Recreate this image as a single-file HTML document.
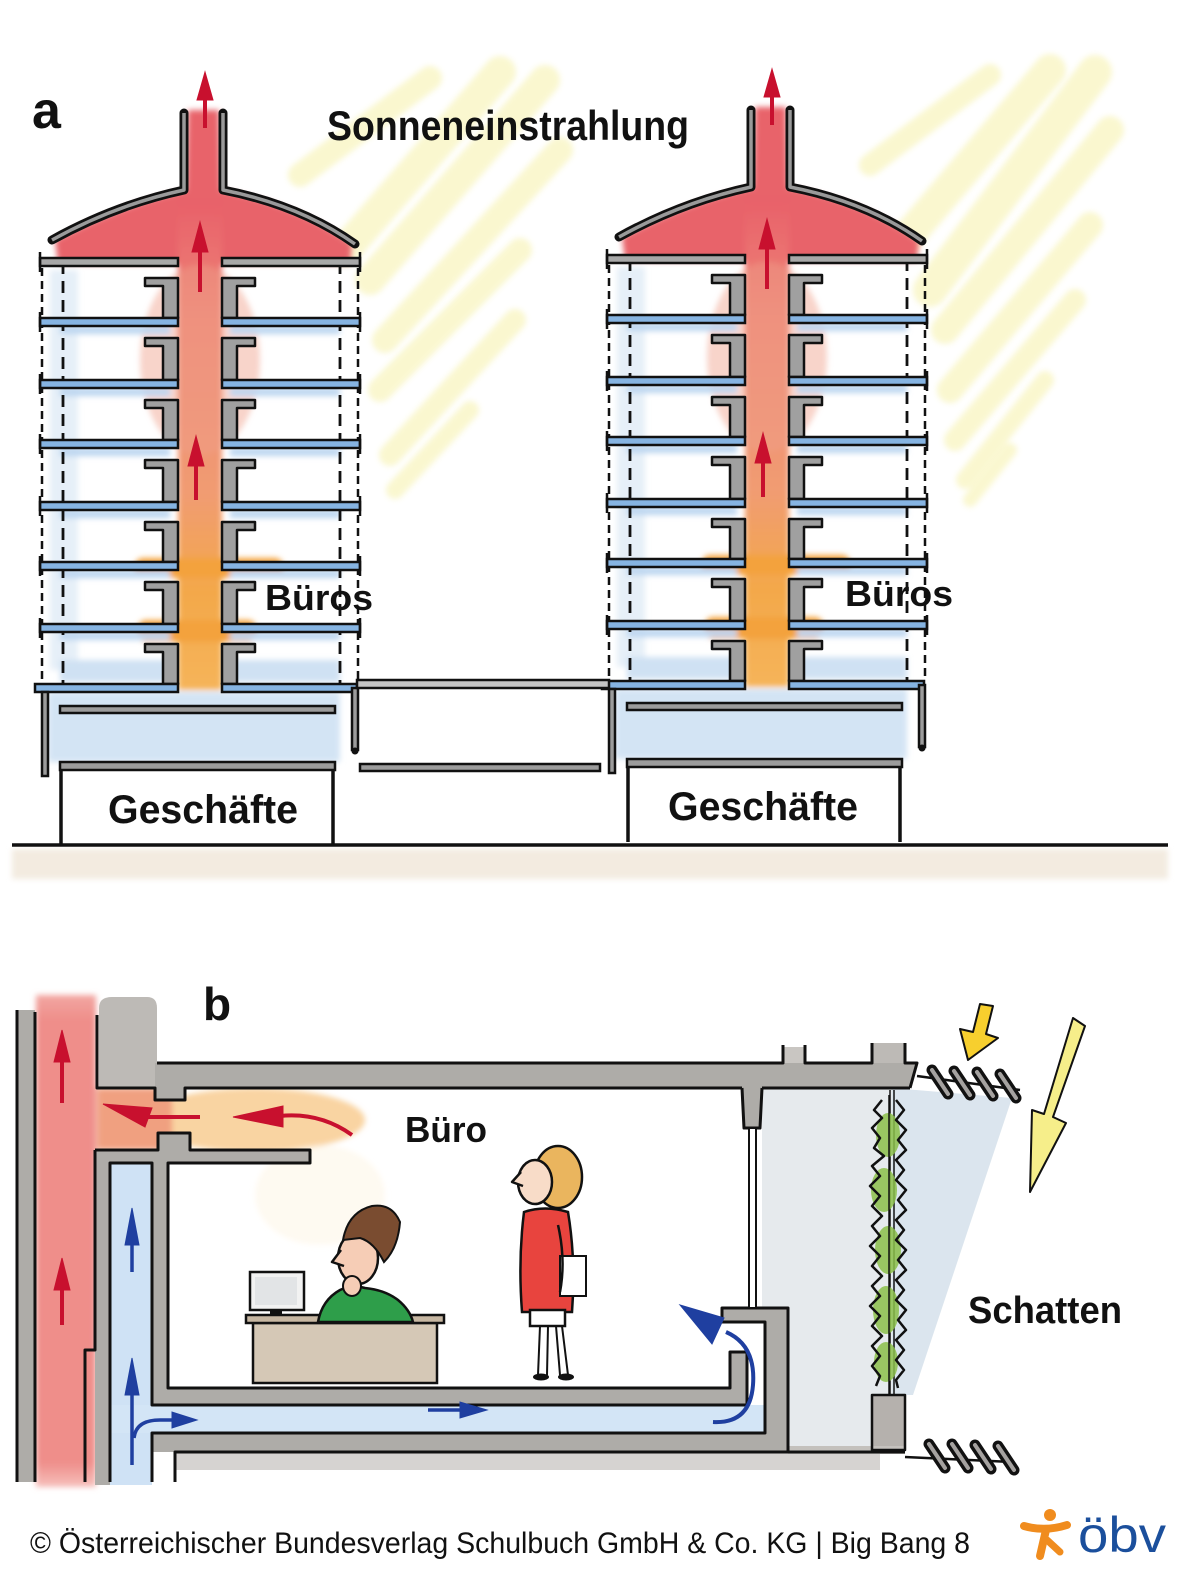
<!DOCTYPE html>
<html><head><meta charset="utf-8">
<style>
html,body{margin:0;padding:0;background:#fff;}
svg{display:block;}
.h{font-family:"Liberation Sans","DejaVu Sans",sans-serif;font-weight:bold;fill:#111;}
.f{font-family:"Liberation Sans Narrow","Liberation Sans",sans-serif;fill:#111;}
</style></head><body>
<svg width="1200" height="1578" viewBox="0 0 1200 1578" xmlns="http://www.w3.org/2000/svg">
<defs>
<filter id="bl" x="-20%" y="-20%" width="140%" height="140%"><feGaussianBlur stdDeviation="3"/></filter>
<filter id="bl6" x="-20%" y="-20%" width="140%" height="140%"><feGaussianBlur stdDeviation="5"/></filter>
<linearGradient id="coreG" x1="0" y1="0" x2="0" y2="1">
<stop offset="0" stop-color="#e8606a"/><stop offset="0.25" stop-color="#ee8676"/><stop offset="0.6" stop-color="#f19c72"/><stop offset="0.8" stop-color="#f3a84a"/><stop offset="1" stop-color="#f5b45a"/>
</linearGradient>
<linearGradient id="redG" x1="0" y1="0" x2="0" y2="1">
<stop offset="0" stop-color="#f2a7a2"/><stop offset="0.05" stop-color="#ef8e8a"/><stop offset="0.95" stop-color="#ef8e8a"/><stop offset="1" stop-color="#f6c0bc"/>
</linearGradient>
<g id="bld">
 <g filter="url(#bl)">
  <path d="M55,240 Q120,205 186,190 L188,110 L219,110 L221,190 Q300,205 352,244 L350,264 L58,264 Z" fill="#e8646a"/>
  <rect x="178" y="200" width="44" height="490" fill="url(#coreG)"/>
  <ellipse cx="200" cy="360" rx="60" ry="95" fill="#f0a08a" opacity=".45"/>
  <rect x="135" y="558" width="148" height="20" rx="8" fill="#f3a23e"/>
  <rect x="138" y="620" width="118" height="22" rx="8" fill="#f3a23e"/>
  <rect x="48" y="692" width="292" height="70" fill="#d3e4f4"/>
  <rect x="50" y="270" width="28" height="400" fill="#dbe8f5" opacity=".7"/>
  <rect x="60" y="326" width="110" height="8" fill="#bcd6f0"/><rect x="230" y="326" width="110" height="8" fill="#bcd6f0"/>
  <rect x="60" y="388" width="110" height="8" fill="#bcd6f0"/><rect x="230" y="388" width="110" height="8" fill="#bcd6f0"/>
  <rect x="60" y="448" width="110" height="8" fill="#bcd6f0"/><rect x="230" y="448" width="110" height="8" fill="#bcd6f0"/>
  <rect x="60" y="510" width="110" height="8" fill="#bcd6f0"/><rect x="230" y="510" width="110" height="8" fill="#bcd6f0"/>
  <rect x="60" y="570" width="110" height="8" fill="#bcd6f0"/><rect x="230" y="570" width="110" height="8" fill="#bcd6f0"/>
  <rect x="60" y="632" width="110" height="8" fill="#bcd6f0"/><rect x="230" y="632" width="110" height="8" fill="#bcd6f0"/>
  <rect x="60" y="660" width="110" height="22" fill="#cfe1f3"/><rect x="230" y="660" width="110" height="22" fill="#cfe1f3"/>
 </g>
 <g fill="#a0a0a0" stroke="#111" stroke-width="2.5" stroke-linejoin="round">
  <path d="M145,278H178V318H163V286H145Z"/><path d="M255,278H222V318H237V286H255Z"/>
  <path d="M145,338H178V380H163V346H145Z"/><path d="M255,338H222V380H237V346H255Z"/>
  <path d="M145,400H178V440H163V408H145Z"/><path d="M255,400H222V440H237V408H255Z"/>
  <path d="M145,460H178V502H163V468H145Z"/><path d="M255,460H222V502H237V468H255Z"/>
  <path d="M145,522H178V562H163V530H145Z"/><path d="M255,522H222V562H237V530H255Z"/>
  <path d="M145,582H178V624H163V590H145Z"/><path d="M255,582H222V624H237V590H255Z"/>
  <path d="M145,644H178V684H163V652H145Z"/><path d="M255,644H222V684H237V652H255Z"/>
 </g>
 <g stroke="#111" fill="none">
  <line x1="63" y1="262" x2="63" y2="684" stroke-width="2.8" stroke-dasharray="12 7"/>
  <line x1="340" y1="262" x2="340" y2="684" stroke-width="2.8" stroke-dasharray="12 7"/>
  <line x1="42" y1="268" x2="42" y2="680" stroke-width="2.5" stroke-dasharray="8 5"/>
  <line x1="358" y1="268" x2="358" y2="680" stroke-width="2.5" stroke-dasharray="8 5"/>
 </g>
 <g fill="#86b4e2" stroke="#111" stroke-width="2.5">
  <rect x="40" y="258" width="138" height="8" fill="#a8a8a8"/><rect x="222" y="258" width="138" height="8" fill="#a8a8a8"/>
  <rect x="40" y="318" width="138" height="8"/><rect x="222" y="318" width="138" height="8"/>
  <rect x="40" y="380" width="138" height="8"/><rect x="222" y="380" width="138" height="8"/>
  <rect x="40" y="440" width="138" height="8"/><rect x="222" y="440" width="138" height="8"/>
  <rect x="40" y="502" width="138" height="8"/><rect x="222" y="502" width="138" height="8"/>
  <rect x="40" y="562" width="138" height="8"/><rect x="222" y="562" width="138" height="8"/>
  <rect x="40" y="624" width="138" height="8"/><rect x="222" y="624" width="138" height="8"/>
  <rect x="35" y="684" width="143" height="8"/><rect x="222" y="684" width="135" height="8"/>
 </g>
 <path d="M40,252V272M360,252V272M40,312V332M360,312V332M40,374V394M360,374V394M40,434V454M360,434V454M40,496V516M360,496V516M40,556V576M360,556V576M40,618V638M360,618V638" stroke="#111" stroke-width="2.5"/>
 <path d="M52,240 Q115,205 184,190 L184,113" fill="none" stroke="#111" stroke-width="9" stroke-linejoin="round" stroke-linecap="round"/>
 <path d="M355,244 Q300,205 223,190 L223,113" fill="none" stroke="#111" stroke-width="9" stroke-linejoin="round" stroke-linecap="round"/>
 <path d="M52,240 Q115,205 184,190 L184,113" fill="none" stroke="#9a9a9a" stroke-width="3.5" stroke-linejoin="round"/>
 <path d="M355,244 Q300,205 223,190 L223,113" fill="none" stroke="#9a9a9a" stroke-width="3.5" stroke-linejoin="round"/>
 <g fill="#c8102e" stroke="#c8102e">
  <polygon points="205,72 197,100 213,100" stroke-width="1"/><line x1="205" y1="98" x2="205" y2="128" stroke-width="4"/>
  <polygon points="200,222 192,252 208,252" stroke-width="1"/><line x1="200" y1="250" x2="200" y2="292" stroke-width="4"/>
  <polygon points="196,436 188,466 204,466" stroke-width="1"/><line x1="196" y1="464" x2="196" y2="500" stroke-width="4"/>
 </g>
 <g stroke="#111" stroke-width="2.5" fill="#9c9c9c">
  <rect x="42" y="692" width="6" height="84"/>
  <rect x="60" y="706" width="275" height="7"/>
  <rect x="60" y="762" width="275" height="8"/>
  <rect x="352" y="688" width="6" height="62"/>
 </g>
 <circle cx="355" cy="751" r="3.5" fill="#111"/>
 <path d="M61,770V845M333,770V845" stroke="#111" stroke-width="3.5"/>
</g>
</defs>

<g stroke="#f4ee96" stroke-linecap="round" opacity=".45" filter="url(#bl)">
 <line x1="430" y1="78" x2="300" y2="175" stroke-width="24"/>
 <line x1="500" y1="72" x2="345" y2="250" stroke-width="32"/>
 <line x1="545" y1="80" x2="370" y2="280" stroke-width="30"/>
 <line x1="560" y1="150" x2="385" y2="340" stroke-width="26"/>
 <line x1="520" y1="250" x2="380" y2="390" stroke-width="24"/>
 <line x1="515" y1="320" x2="390" y2="455" stroke-width="22"/>
 <line x1="470" y1="410" x2="395" y2="490" stroke-width="18"/>
 <line x1="990" y1="75" x2="870" y2="165" stroke-width="22"/>
 <line x1="1050" y1="70" x2="905" y2="240" stroke-width="32"/>
 <line x1="1095" y1="72" x2="930" y2="290" stroke-width="34"/>
 <line x1="1110" y1="130" x2="945" y2="330" stroke-width="28"/>
 <line x1="1090" y1="225" x2="950" y2="390" stroke-width="26"/>
 <line x1="1075" y1="300" x2="955" y2="440" stroke-width="22"/>
 <line x1="1045" y1="380" x2="965" y2="480" stroke-width="18"/>
 <line x1="1010" y1="450" x2="970" y2="500" stroke-width="14"/>
</g>

<rect x="12" y="849" width="1156" height="30" fill="#f3ebe0" filter="url(#bl)"/>

<use href="#bld"/>
<use href="#bld" transform="translate(567,-3)"/>

<rect x="357" y="680" width="252" height="8" fill="#c4c4c4" stroke="#111" stroke-width="2.5"/>
<rect x="360" y="764" width="240" height="7" fill="#9c9c9c" stroke="#111" stroke-width="2.5"/>
<line x1="12" y1="845" x2="1168" y2="845" stroke="#111" stroke-width="3.5"/>

<text class="h" x="32" y="128" font-size="52">a</text>
<text class="h" x="327" y="140" font-size="42" textLength="362" lengthAdjust="spacingAndGlyphs">Sonneneinstrahlung</text>
<text class="h" x="265" y="610" font-size="36" textLength="108" lengthAdjust="spacingAndGlyphs">Büros</text>
<text class="h" x="845" y="606" font-size="36" textLength="108" lengthAdjust="spacingAndGlyphs">Büros</text>
<text class="h" x="108" y="823" font-size="40" textLength="190" lengthAdjust="spacingAndGlyphs">Geschäfte</text>
<text class="h" x="668" y="820" font-size="40" textLength="190" lengthAdjust="spacingAndGlyphs">Geschäfte</text>

<g filter="url(#bl)">
 <rect x="36" y="995" width="60" height="492" fill="url(#redG)"/>
 <ellipse cx="255" cy="1120" rx="110" ry="32" fill="#f7c27a" opacity=".7"/>
 <ellipse cx="320" cy="1195" rx="65" ry="50" fill="#fdf3dc" opacity=".4"/>
 <rect x="97" y="1088" width="75" height="62" fill="#f0a080"/>
</g>
<path d="M762,1088 H892 V1450 H788 V1308 H762 Z" fill="#e6eaed"/>
<polygon points="892,1088 1012,1098 913,1395 892,1395" fill="#dbe5ee"/>
<g fill="#aeaca8">
 <rect x="17" y="1010" width="18" height="472"/>
 <path d="M99,1008 Q99,997 112,997 H147 Q157,997 157,1008 V1088 H99 Z" fill="#bdbab6"/>
 <path d="M155,1063 H917 L910,1088 H155 Z"/>
 <rect x="783" y="1047" width="22" height="16" fill="#c9c6c2"/>
 <rect x="872" y="1043" width="33" height="20" fill="#bdbab6"/>
 <rect x="155" y="1088" width="30" height="12"/>
 <path d="M95,1150 H158 V1133 H190 V1150 H310 V1163 H95 Z"/>
 <rect x="95" y="1163" width="15" height="322"/>
 <rect x="110" y="1163" width="42" height="322" fill="#cfe2f5"/>
 <rect x="152" y="1163" width="16" height="225"/>
 <rect x="152" y="1388" width="595" height="17"/>
 <rect x="110" y="1405" width="655" height="28" fill="#d3e5f6"/>
 <rect x="152" y="1433" width="636" height="19"/>
 <rect x="175" y="1452" width="705" height="18" fill="#c4c1bd" opacity=".7"/>
 <path d="M722,1308 H788 V1452 H765 V1322 H722 Z"/>
 <rect x="730" y="1352" width="17" height="36"/>
 <path d="M742,1088 H762 L760,1128 H744 Z"/>
 <rect x="872" y="1395" width="33" height="55" fill="#b5b1ad"/>
 <rect x="788" y="1446" width="117" height="8" fill="#c4c1bd"/>
</g>
<g fill="none" stroke="#111" stroke-width="3" stroke-linejoin="round">
 <path d="M17,1010 V1482"/>
 <path d="M35,1012 V1482"/>
 <path d="M97,1015 V1088 H155 V1100 H185 V1088 H742"/>
 <path d="M762,1088 H910"/>
 <path d="M157,1063 H783 V1045 M805,1045 V1063 H872 V1043 M905,1043 V1063 H917 L910,1088"/>
 <path d="M95,1150 H158 V1133 H190 V1150 H310 V1163 H168 V1388 H730 V1352 H747 V1405 H152 V1163 H110 V1482"/>
 <path d="M95,1150 V1350 H85 V1482"/>
 <path d="M152,1482 V1433 H765 V1322 H722 V1308 H788 V1452 H905"/>
 <path d="M175,1482 V1452 H788"/>
 <path d="M742,1088 L744,1128 H760 L762,1088"/>
 <rect x="749" y="1128" width="7" height="180" fill="#fff" stroke-width="2"/>
 <path d="M890,1090 V1395 M894,1090 V1395" stroke-width="1.5"/>
 <rect x="872" y="1395" width="33" height="55" stroke-width="2.5"/>
 <path d="M917,1076 L1020,1090 M905,1457 L1012,1462" stroke-width="2.5"/>
</g>
<g stroke-linecap="round">
 <g stroke="#111" stroke-width="11">
  <line x1="932" y1="1070" x2="948" y2="1094"/><line x1="954" y1="1071" x2="970" y2="1095"/>
  <line x1="977" y1="1072" x2="993" y2="1096"/><line x1="1000" y1="1074" x2="1016" y2="1098"/>
  <line x1="929" y1="1444" x2="945" y2="1468"/><line x1="952" y1="1444" x2="968" y2="1468"/>
  <line x1="975" y1="1445" x2="991" y2="1469"/><line x1="998" y1="1446" x2="1014" y2="1470"/>
 </g>
 <g stroke="#a5a2a0" stroke-width="4">
  <line x1="932" y1="1070" x2="948" y2="1094"/><line x1="954" y1="1071" x2="970" y2="1095"/>
  <line x1="977" y1="1072" x2="993" y2="1096"/><line x1="1000" y1="1074" x2="1016" y2="1098"/>
  <line x1="929" y1="1444" x2="945" y2="1468"/><line x1="952" y1="1444" x2="968" y2="1468"/>
  <line x1="975" y1="1445" x2="991" y2="1469"/><line x1="998" y1="1446" x2="1014" y2="1470"/>
 </g>
</g>
<g>
 <g fill="#8cc04a" opacity=".85">
  <ellipse cx="888" cy="1135" rx="12" ry="22"/><ellipse cx="884" cy="1190" rx="13" ry="22"/>
  <ellipse cx="888" cy="1250" rx="13" ry="24"/><ellipse cx="886" cy="1310" rx="13" ry="24"/>
  <ellipse cx="886" cy="1362" rx="12" ry="20"/>
 </g>
 <path d="M882,1100 L874,1110 L882,1118 L872,1128 L880,1138 L874,1148 L884,1156 L872,1166 L880,1176 L870,1186 L880,1196 L872,1206 L882,1216 L872,1226 L880,1236 L870,1246 L880,1256 L872,1266 L882,1276 L872,1286 L880,1296 L870,1306 L880,1316 L872,1326 L882,1336 L872,1346 L880,1356 L872,1366 L880,1376 L876,1386" fill="none" stroke="#111" stroke-width="2.5" stroke-linejoin="round"/>
 <path d="M896,1100 L904,1110 L896,1120 L906,1130 L898,1140 L906,1150 L896,1160 L904,1170 L896,1180 L906,1190 L898,1200 L906,1210 L896,1220 L904,1230 L896,1240 L906,1250 L898,1260 L906,1270 L896,1280 L904,1290 L896,1300 L906,1310 L898,1320 L906,1330 L896,1340 L904,1350 L896,1360 L904,1370 L896,1380 L898,1388" fill="none" stroke="#111" stroke-width="2.5" stroke-linejoin="round"/>
 <line x1="889" y1="1095" x2="889" y2="1395" stroke="#111" stroke-width="1.5"/>
</g>
<polygon points="980,1004 993,1006 986,1034 998,1038 968,1060 960,1029 973,1032" fill="#f7cf2e" stroke="#111" stroke-width="2" stroke-linejoin="round"/>
<polygon points="1073,1018 1085,1026 1053,1117 1066,1123 1030,1192 1032,1110 1044,1114" fill="#f6ee8a" stroke="#111" stroke-width="2" stroke-linejoin="round"/>
<g fill="#c8102e" stroke="#c8102e">
 <polygon points="62,1030 54,1062 70,1062" stroke-width="1"/><line x1="62" y1="1060" x2="62" y2="1103" stroke-width="4"/>
 <polygon points="62,1258 54,1290 70,1290" stroke-width="1"/><line x1="62" y1="1288" x2="62" y2="1325" stroke-width="4"/>
 <polygon points="103,1104 152,1108 145,1127" stroke-width="1"/><line x1="145" y1="1117" x2="200" y2="1117" stroke-width="4"/>
 <path d="M352,1135 Q320,1112 280,1116" fill="none" stroke-width="4"/>
 <polygon points="233,1117 283,1106 283,1127" stroke-width="1"/>
</g>
<g fill="#1f3fa0" stroke="#1f3fa0">
 <polygon points="132,1208 125,1245 139,1245" stroke-width="1"/><line x1="132" y1="1243" x2="132" y2="1272" stroke-width="3.5"/>
 <polygon points="132,1358 125,1395 139,1395" stroke-width="1"/><line x1="132" y1="1393" x2="132" y2="1465" stroke-width="3.5"/>
 <path d="M134,1438 Q136,1420 160,1420 H176" fill="none" stroke-width="3.5"/>
 <polygon points="197,1420 172,1412 172,1428" stroke-width="1"/>
 <line x1="428" y1="1410" x2="462" y2="1410" stroke-width="3.5"/>
 <polygon points="487,1410 460,1402 460,1418" stroke-width="1"/>
 <path d="M713,1422 Q750,1424 753,1385 Q756,1345 726,1332" fill="none" stroke-width="4"/>
 <polygon points="680,1305 724,1318 712,1344" stroke-width="1"/>
</g>
<rect x="253" y="1323" width="184" height="60" fill="#d5c8b6" stroke="#111" stroke-width="2.5"/>
<rect x="246" y="1315" width="198" height="8" fill="#c7b7a2" stroke="#111" stroke-width="2.5"/>
<rect x="250" y="1272" width="54" height="38" fill="#f2f2f2" stroke="#111" stroke-width="2.5"/>
<rect x="255" y="1277" width="42" height="28" fill="#e2e4e6"/>
<rect x="270" y="1309" width="12" height="7" fill="#111"/>
<path d="M318,1322 Q322,1300 340,1290 Q352,1284 365,1288 Q385,1290 398,1300 Q410,1310 413,1322 Z" fill="#2e9e4a" stroke="#111" stroke-width="2.5"/>
<ellipse cx="358" cy="1258" rx="20" ry="26" fill="#f6cdb6" stroke="#111" stroke-width="2.5"/>
<path d="M341,1250 L332,1262 L344,1266" fill="#f6cdb6" stroke="#111" stroke-width="2.5" stroke-linejoin="round"/>
<path d="M343,1240 Q348,1212 372,1206 Q392,1203 400,1222 Q398,1248 384,1262 Q374,1242 360,1238 Z" fill="#7a4c30" stroke="#111" stroke-width="2"/>
<ellipse cx="352" cy="1286" rx="9" ry="10" fill="#f6cdb6" stroke="#111" stroke-width="2"/>
<ellipse cx="558" cy="1177" rx="24" ry="31" fill="#eab55e" stroke="#111" stroke-width="2.5"/>
<ellipse cx="535" cy="1182" rx="17" ry="22" fill="#f8dcc8" stroke="#111" stroke-width="2.5"/>
<path d="M521,1172 L512,1182 L523,1186" fill="#f8dcc8" stroke="#111" stroke-width="2.5" stroke-linejoin="round"/>
<path d="M524,1212 Q545,1205 568,1212 Q576,1260 572,1312 H522 Q518,1260 524,1212 Z" fill="#e8443e" stroke="#111" stroke-width="2.5"/>
<rect x="530" y="1310" width="35" height="16" fill="#fff" stroke="#111" stroke-width="2.5"/>
<path d="M540,1326 L538,1375 M548,1326 L547,1375 M556,1326 L560,1375 M562,1326 L568,1375" stroke="#111" stroke-width="2"/>
<ellipse cx="541" cy="1377" rx="8" ry="3.5" fill="#111"/><ellipse cx="566" cy="1377" rx="8" ry="3.5" fill="#111"/>
<rect x="560" y="1256" width="26" height="40" fill="#fff" stroke="#111" stroke-width="2"/>
<path d="M558,1225 Q566,1260 560,1292" fill="none" stroke="#111" stroke-width="2.5"/>

<text class="h" x="203" y="1020" font-size="46">b</text>
<text class="h" x="405" y="1142" font-size="36" textLength="82" lengthAdjust="spacingAndGlyphs">Büro</text>
<text class="h" x="968" y="1323" font-size="38" textLength="154" lengthAdjust="spacingAndGlyphs">Schatten</text>

<text class="f" x="30" y="1553" font-size="30" textLength="940" lengthAdjust="spacingAndGlyphs">© Österreichischer Bundesverlag Schulbuch GmbH &amp; Co. KG |  Big Bang 8</text>
<g stroke="#f08c1e" stroke-linecap="round" fill="none">
 <circle cx="1050" cy="1515" r="6" fill="#f08c1e" stroke="none"/>
 <path d="M1024,1526 Q1045,1532 1067,1525" stroke-width="8"/>
 <path d="M1046,1530 L1040,1556" stroke-width="8"/>
 <path d="M1047,1540 L1060,1552" stroke-width="7"/>
</g>
<text x="1078" y="1552" font-family="Liberation Sans, sans-serif" font-size="50" fill="#1b4f9c" textLength="88" lengthAdjust="spacingAndGlyphs">öbv</text>
</svg>
</body></html>
